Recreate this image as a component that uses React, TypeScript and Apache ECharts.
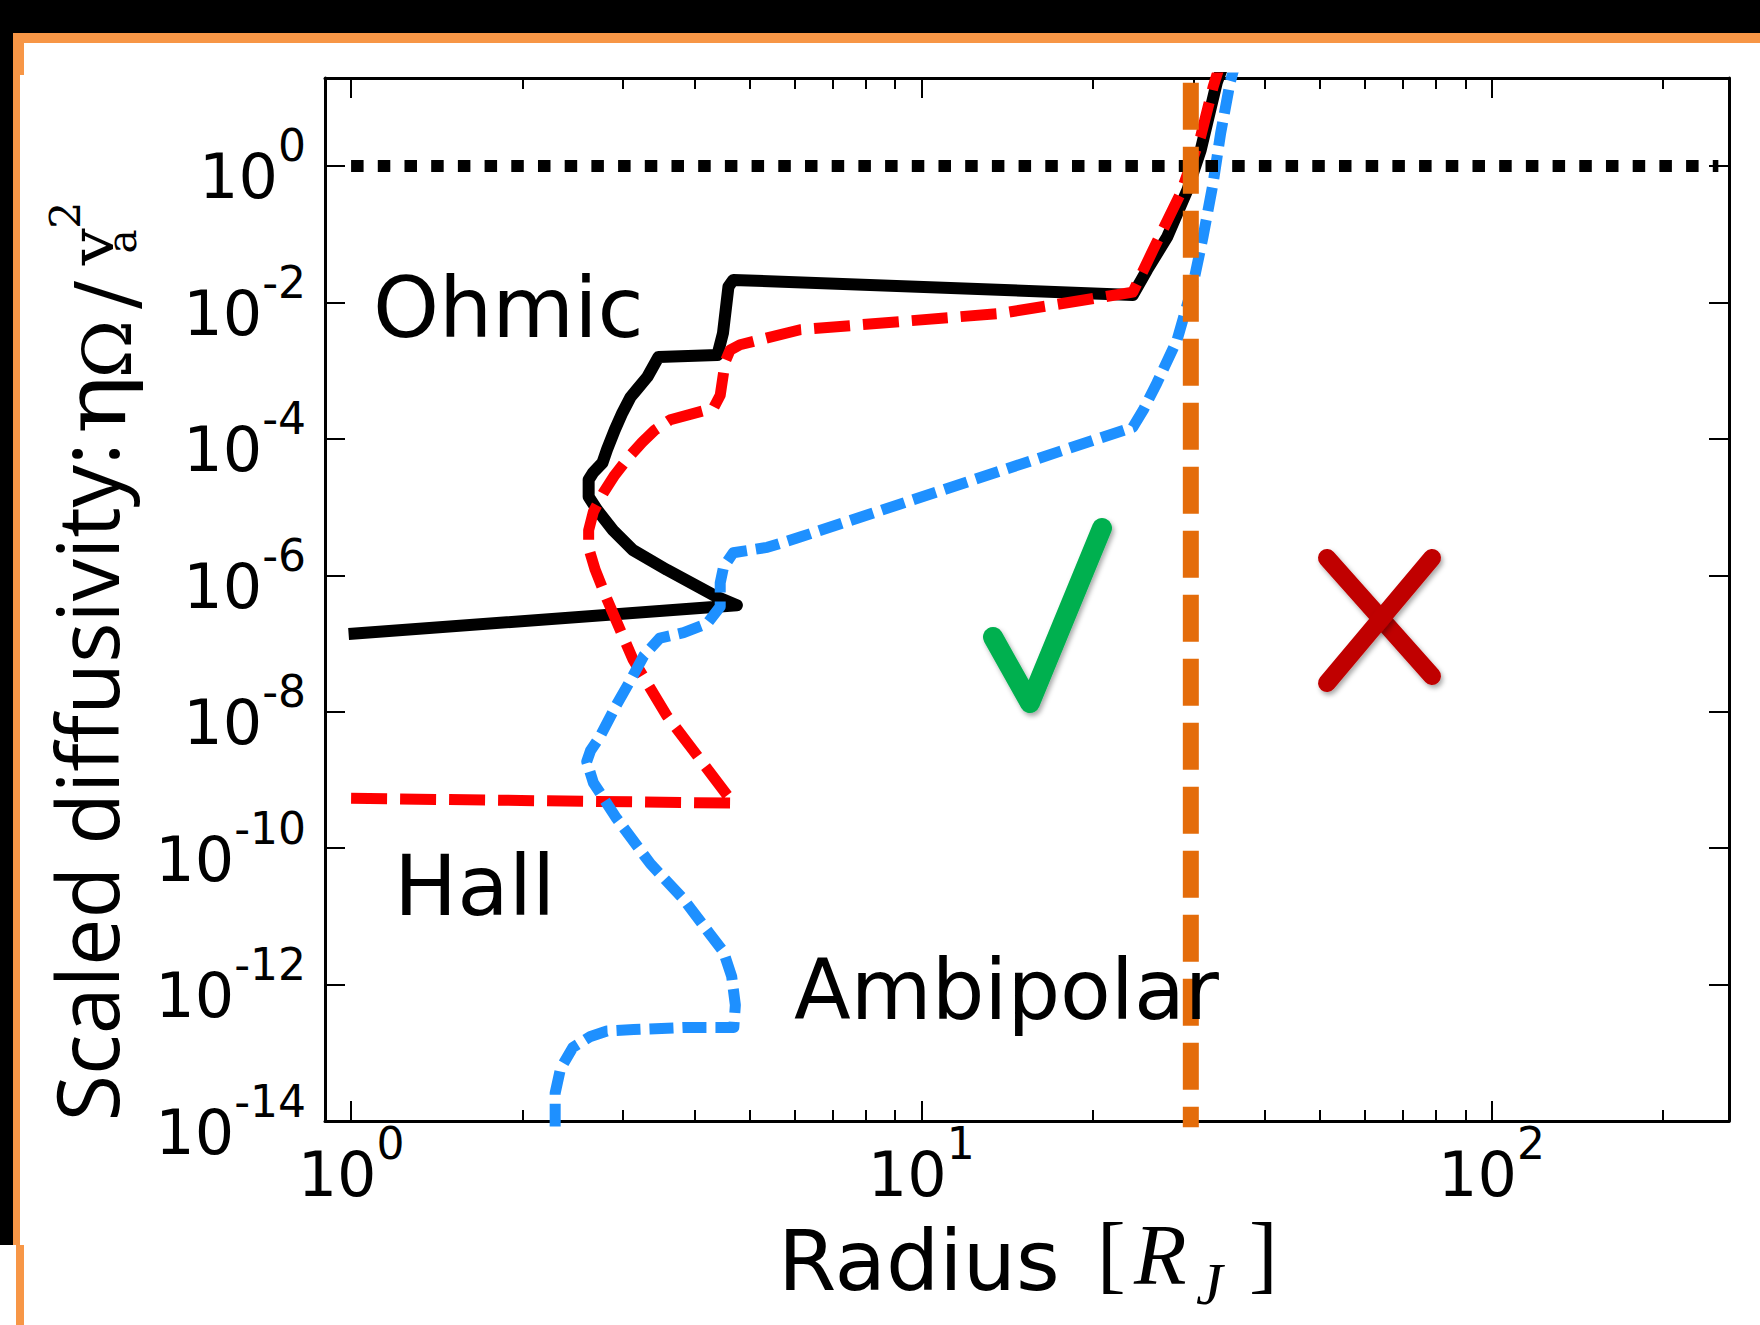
import React, { useEffect, useRef } from 'react';
import * as echarts from 'echarts';

// ---- Data: radius in R_J, diffusivity as log10(eta*Omega/va^2) ----
const ohmicRadius = [0.99, 4.75, 4.39, 3.58, 3.12, 2.88, 2.70, 2.61, 2.61, 2.66, 2.76, 2.81, 2.90, 2.99, 3.09, 3.17, 3.31, 3.46, 4.39, 4.49, 4.59, 4.68, 23.5, 24.9, 27.0, 29.3, 30.9, 33.0, 33.6];
const ohmicLogEta = [-6.86, -6.44, -6.32, -5.92, -5.63, -5.34, -5.04, -4.85, -4.60, -4.49, -4.35, -4.16, -3.87, -3.62, -3.39, -3.28, -3.09, -2.80, -2.77, -2.45, -1.77, -1.67, -1.89, -1.52, -1.04, -0.35, 0.23, 1.23, 1.41];

const hallRadius = [1.0, 4.68, 3.58, 3.12, 2.81, 2.68, 2.61, 2.61, 2.66, 2.77, 2.90, 3.06, 3.24, 3.41, 3.63, 4.32, 4.44, 4.53, 4.62, 4.81, 6.13, 13.8, 23.5, 25.5, 28.5, 30.9, 32.5, 33.2];
const hallLogEta = [-9.27, -9.34, -8.06, -7.23, -6.35, -5.92, -5.60, -5.34, -5.07, -4.79, -4.53, -4.28, -4.05, -3.87, -3.72, -3.55, -3.36, -2.87, -2.70, -2.62, -2.40, -2.16, -1.85, -1.23, -0.40, 0.43, 1.16, 1.41];

const ambiRadius = [2.28, 2.28, 2.33, 2.45, 2.63, 2.81, 3.13, 3.83, 4.69, 4.72, 4.65, 4.50, 4.26, 3.83, 3.35, 2.92, 2.66, 2.59, 2.63, 2.73, 2.92, 3.09, 3.26, 3.48, 3.83, 4.21, 4.44, 4.44, 4.50, 4.68, 5.37, 6.13, 23.5, 24.5, 25.9, 28.1, 30.0, 31.2, 32.5, 33.5, 34.8, 35.3];
const ambiLogEta = [-14.1, -13.59, -13.23, -12.92, -12.76, -12.68, -12.66, -12.63, -12.63, -12.30, -11.88, -11.52, -11.26, -10.75, -10.23, -9.56, -9.04, -8.73, -8.57, -8.37, -7.90, -7.54, -7.18, -6.92, -6.84, -6.71, -6.46, -6.11, -5.88, -5.67, -5.59, -5.44, -3.83, -3.58, -3.18, -2.55, -1.72, -1.04, -0.25, 0.48, 1.22, 1.41];

const unityRadius = [1, 250];
const unityLogEta = [0, 0];
const boundaryRadius = [29.7, 29.7];
const boundaryLogEta = [1.22, -14.09];

const yTickExponents = [-14, -12, -10, -8, -6, -4, -2, 0];
const xMajorExponents = [0, 1, 2];
const xMinorRadii = [2, 3, 4, 5, 6, 7, 8, 9, 20, 30, 40, 50, 60, 70, 80, 90, 200];

const xRange = [0.9, 261];
const yRange = [-14, 1.29];

const zip = (xs: number[], ys: number[]) => xs.map((r, i) => [Math.log10(r), ys[i]]);

const labelRich = {
  b: { fontFamily: 'DejaVu Sans', fontSize: 62, color: '#000', verticalAlign: 'bottom' },
  s: { fontFamily: 'DejaVu Sans', fontSize: 44, color: '#000', verticalAlign: 'bottom', padding: [0, 0, 40, 0] },
};
const powLabel = (v: number) => `{b|10}{s|${Math.round(v)}}`;

const mid = { align: 'left', verticalAlign: 'middle', textAlign: 'left', textVerticalAlign: 'middle' };
const midC = { align: 'center', verticalAlign: 'middle', textAlign: 'center', textVerticalAlign: 'middle' };

function txt(text: string, x: number, y: number, family: string, size: number, styleExtra: any = {}) {
  return {
    type: 'text', z: 10, x, y,
    style: { text, fontFamily: family, fontSize: size, fill: '#000', ...mid, ...styleExtra },
  };
}

type Box = { x0: number; x1: number; y0: number; y1: number };
let measureCtx: CanvasRenderingContext2D | null = null;

// A rotated (bottom-to-top) piece of text whose ink is fitted into a box of the picture.
function rotatedFit(text: string, family: string, box: Box, fitWidth: boolean, fallbackSize: number) {
  if (!measureCtx) measureCtx = document.createElement('canvas').getContext('2d');
  const tx = (box.x0 + box.x1) / 2;
  const ty = (box.y0 + box.y1) / 2;
  const base = {
    type: 'text', z: 10, rotation: Math.PI / 2,
    style: { text, fontFamily: family, fill: '#000', ...midC } as any,
  } as any;
  const ctx = measureCtx;
  if (!ctx) {
    base.x = tx; base.y = ty; base.style.fontSize = fallbackSize;
    return base;
  }
  const ref = 100;
  ctx.font = `${ref}px "${family}"`;
  ctx.textAlign = 'center';
  ctx.textBaseline = 'alphabetic';
  const m = ctx.measureText(text);
  const aA = m.actualBoundingBoxAscent || 0;
  const aD = m.actualBoundingBoxDescent || 0;
  const aL = m.actualBoundingBoxLeft || 0;
  const aR = m.actualBoundingBoxRight || 0;
  const fA = (m as any).fontBoundingBoxAscent ?? 93;
  const fD = (m as any).fontBoundingBoxDescent ?? 24;
  const inkH = aA + aD;
  const size = inkH > 0 ? (ref * (box.x1 - box.x0)) / inkH : fallbackSize;
  const k = size / ref;
  const inkW = (aL + aR) * k;
  const sx = fitWidth && inkW > 0 ? Math.max(0.7, Math.min(1.4, (box.y1 - box.y0) / inkW)) : 1;
  const yc = (-(fA - fD) / 2) * k;
  const yi = (-(aA - aD) / 2) * k;
  const xi = ((aR - aL) / 2) * k * sx;
  base.x = tx + yc - yi;
  base.y = ty + xi;
  base.scaleX = sx;
  base.style.fontSize = size;
  return base;
}

function buildOption() {
  const xMin = Math.log10(xRange[0]);
  const xMax = Math.log10(xRange[1]);
  const minorX = xMinorRadii.map((r) => Math.log10(r));
  const lineSt = { color: '#000', width: 3 };
  const tickSt = { color: '#000', width: 2 };
  const baseX = { type: 'value', min: xMin, max: xMax, splitLine: { show: false } };
  const baseY = { type: 'value', min: yRange[0], max: yRange[1], splitLine: { show: false } };

  return {
    animation: false,
    backgroundColor: '#ffffff',
    grid: { left: 325, top: 78, right: 31, bottom: 204, containLabel: false },
    xAxis: [
      {
        ...baseX, position: 'bottom',
        axisLine: { show: true, onZero: false, lineStyle: lineSt },
        axisTick: { show: true, inside: true, length: 20, lineStyle: tickSt, customValues: xMajorExponents },
        axisLabel: { show: true, customValues: xMajorExponents, formatter: powLabel, rich: labelRich, margin: 0, fontFamily: 'DejaVu Sans', fontSize: 62, color: '#000' },
      },
      {
        ...baseX, position: 'top',
        axisLine: { show: true, onZero: false, lineStyle: lineSt },
        axisTick: { show: true, inside: true, length: 20, lineStyle: tickSt, customValues: xMajorExponents },
        axisLabel: { show: false },
      },
      {
        ...baseX, position: 'bottom',
        axisLine: { show: false, onZero: false },
        axisTick: { show: true, inside: true, length: 11, lineStyle: tickSt, customValues: minorX },
        axisLabel: { show: false },
      },
      {
        ...baseX, position: 'top',
        axisLine: { show: false, onZero: false },
        axisTick: { show: true, inside: true, length: 11, lineStyle: tickSt, customValues: minorX },
        axisLabel: { show: false },
      },
    ],
    yAxis: [
      {
        ...baseY, position: 'left',
        axisLine: { show: true, onZero: false, lineStyle: lineSt },
        axisTick: { show: true, inside: true, length: 20, lineStyle: tickSt, customValues: yTickExponents },
        axisLabel: { show: true, customValues: yTickExponents, formatter: powLabel, rich: labelRich, margin: 19, fontFamily: 'DejaVu Sans', fontSize: 62, color: '#000' },
      },
      {
        ...baseY, position: 'right',
        axisLine: { show: true, onZero: false, lineStyle: lineSt },
        axisTick: { show: true, inside: true, length: 20, lineStyle: tickSt, customValues: yTickExponents },
        axisLabel: { show: false },
      },
    ],
    series: [
      {
        name: 'Ohmic', type: 'line', xAxisIndex: 0, yAxisIndex: 0, symbol: 'none', z: 2,
        data: zip(ohmicRadius, ohmicLogEta),
        lineStyle: { color: '#000000', width: 12, join: 'round' },
      },
      {
        name: 'Hall', type: 'line', xAxisIndex: 0, yAxisIndex: 0, symbol: 'none', z: 3,
        data: zip(hallRadius, hallLogEta),
        lineStyle: { color: '#ff0000', width: 11, type: [36, 13], join: 'round' },
      },
      {
        name: 'Ambipolar', type: 'line', xAxisIndex: 0, yAxisIndex: 0, symbol: 'none', z: 4,
        data: zip(ambiRadius, ambiLogEta),
        lineStyle: { color: '#1e90ff', width: 11, type: [24, 9], join: 'round' },
      },
      {
        name: 'unity', type: 'line', xAxisIndex: 0, yAxisIndex: 0, symbol: 'none', z: 5,
        data: zip(unityRadius, unityLogEta),
        lineStyle: { color: '#000000', width: 12, type: [12.5, 14.2] },
      },
      {
        name: 'boundary', type: 'line', xAxisIndex: 0, yAxisIndex: 0, symbol: 'none', z: 6, clip: false,
        data: zip(boundaryRadius, boundaryLogEta),
        lineStyle: { color: '#e46c0a', width: 16, type: [47, 17] },
      },
    ],
    graphic: {
      elements: [
        { type: 'rect', z: 0, shape: { x: 0, y: 0, width: 1760, height: 33 }, style: { fill: '#000' } },
        { type: 'rect', z: 0, shape: { x: 0, y: 0, width: 13, height: 1245 }, style: { fill: '#000' } },
        { type: 'rect', z: 1, shape: { x: 13, y: 33, width: 1747, height: 10, r: [4, 0, 0, 0] }, style: { fill: '#f79646' } },
        { type: 'rect', z: 1, shape: { x: 13, y: 33, width: 11, height: 42, r: [4, 0, 0, 0] }, style: { fill: '#f79646' } },
        { type: 'rect', z: 1, shape: { x: 13, y: 33, width: 7, height: 1212 }, style: { fill: '#f79646' } },
        { type: 'rect', z: 1, shape: { x: 16, y: 1245, width: 8, height: 80 }, style: { fill: '#f79646' } },

        txt('Ohmic', 373, 308, 'DejaVu Sans', 84),
        txt('Hall', 394, 886, 'DejaVu Sans', 84),
        txt('Ambipolar', 794, 990, 'DejaVu Sans', 83),

        {
          type: 'polyline', z: 10,
          shape: { points: [[993, 637], [1030, 703], [1102, 528]] },
          style: { stroke: '#00b050', lineWidth: 20, lineCap: 'round', lineJoin: 'round', fill: null, shadowBlur: 5, shadowColor: 'rgba(0,0,0,0.35)', shadowOffsetX: 2, shadowOffsetY: 3 },
        },
        {
          type: 'line', z: 10,
          shape: { x1: 1327, y1: 558, x2: 1432, y2: 676 },
          style: { stroke: '#c00000', lineWidth: 18, lineCap: 'round', shadowBlur: 5, shadowColor: 'rgba(0,0,0,0.35)', shadowOffsetX: 2, shadowOffsetY: 3 },
        },
        {
          type: 'line', z: 10,
          shape: { x1: 1432, y1: 558, x2: 1327, y2: 683 },
          style: { stroke: '#c00000', lineWidth: 18, lineCap: 'round', shadowBlur: 5, shadowColor: 'rgba(0,0,0,0.35)', shadowOffsetX: 2, shadowOffsetY: 3 },
        },

        // x-axis title: Radius [R_J]
        txt('Radius', 778, 1261, 'DejaVu Sans', 84),
        txt('[', 1097, 1253, 'Liberation Serif', 86),
        txt('R', 1134, 1255, 'Liberation Serif', 86, { fontStyle: 'italic' }),
        txt('J', 1196, 1284, 'Liberation Serif', 60, { fontStyle: 'italic' }),
        txt(']', 1249, 1253, 'Liberation Serif', 86),

        // y-axis title (rotated, reads bottom to top), each piece fitted to its place
        rotatedFit('Scaled diffusivity:', 'Open Sans', { x0: 53, x1: 140, y0: 449, y1: 1117 }, true, 85),
        rotatedFit('η', 'DejaVu Serif', { x0: 80, x1: 143, y0: 381, y1: 431 }, true, 84),
        rotatedFit('Ω', 'DejaVu Serif', { x0: 81, x1: 131, y0: 324, y1: 374 }, true, 70),
        rotatedFit('/', 'DejaVu Serif', { x0: 74, x1: 142, y0: 272, y1: 318 }, false, 80),
        rotatedFit('v', 'DejaVu Serif', { x0: 82, x1: 114, y0: 228, y1: 266 }, true, 66),
        rotatedFit('a', 'DejaVu Serif', { x0: 114, x1: 136, y0: 230, y1: 252 }, false, 42),
        rotatedFit('2', 'DejaVu Serif', { x0: 48, x1: 80, y0: 202, y1: 230 }, false, 46),
      ],
    },
  };
}

export default function App() {
  const ref = useRef<HTMLDivElement>(null);
  useEffect(() => {
    const chart = echarts.init(ref.current as HTMLDivElement, null, { renderer: 'svg' });
    chart.setOption(buildOption() as any);
    return () => chart.dispose();
  }, []);
  return (
    <div
      ref={ref}
      style={{ position: 'absolute', left: 0, top: 0, width: 1760, height: 1325, background: '#ffffff' }}
    />
  );
}
